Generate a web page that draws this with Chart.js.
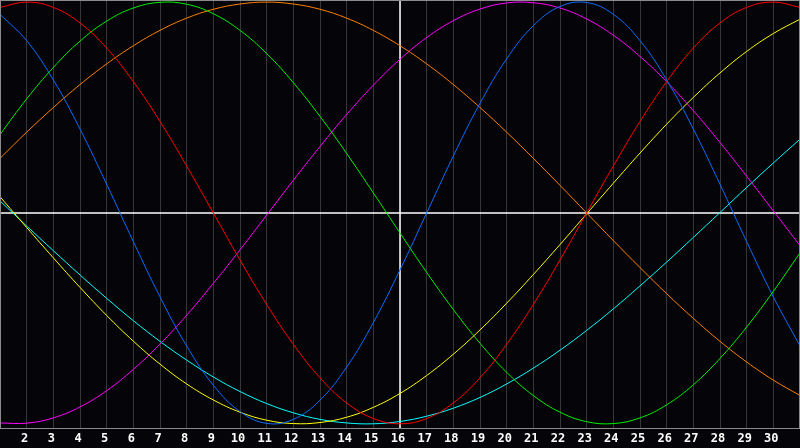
<!DOCTYPE html>
<html>
<head>
<meta charset="utf-8">
<script src="https://cdn.jsdelivr.net/npm/chart.js@4"></script>
<style>
  html, body { margin: 0; padding: 0; background: #050408; }
  #chart { display: block; }
</style>
</head>
<body>
<canvas id="chart" width="800" height="448"></canvas>
<script>
// days shown on the chart, and the labelled ones
var days = [];
for (var d = 1; d <= 31; d++) days.push(d);
var dayLabels = [2,3,4,5,6,7,8,9,10,11,12,13,14,15,16,17,18,19,20,21,22,23,24,25,26,27,28,29,30];
var today = 16;

// values, one per day (-1 .. 1)
var red = [0.975,1.000,0.975,0.901,0.782,0.623,0.434,0.223,0.000,-0.223,-0.434,-0.623,-0.782,-0.901,-0.975,-1.000,-0.975,-0.901,-0.782,-0.623,-0.434,-0.223,0.000,0.223,0.434,0.623,0.782,0.901,0.975,1.000,0.975];
var green = [0.372,0.541,0.690,0.815,0.910,0.972,0.999,0.990,0.945,0.866,0.756,0.618,0.458,0.282,0.095,-0.095,-0.282,-0.458,-0.618,-0.756,-0.866,-0.945,-0.990,-0.999,-0.972,-0.910,-0.815,-0.690,-0.541,-0.372,-0.189];
var blue = [0.942,0.817,0.631,0.398,0.136,-0.136,-0.398,-0.631,-0.817,-0.942,-0.998,-0.979,-0.888,-0.731,-0.520,-0.270,0.000,0.270,0.520,0.731,0.888,0.979,0.998,0.942,0.817,0.631,0.398,0.136,-0.136,-0.398,-0.631];
var orange = [0.259,0.383,0.500,0.609,0.707,0.793,0.866,0.924,0.966,0.991,1.000,0.991,0.966,0.924,0.866,0.793,0.707,0.609,0.500,0.383,0.259,0.131,0.000,-0.131,-0.259,-0.383,-0.500,-0.609,-0.707,-0.793,-0.866];
var magenta = [-0.996,-0.997,-0.972,-0.920,-0.843,-0.742,-0.622,-0.485,-0.334,-0.175,-0.010,0.155,0.315,0.467,0.606,0.729,0.832,0.912,0.967,0.996,0.997,0.972,0.920,0.843,0.742,0.622,0.485,0.334,0.174,0.010,-0.155];
var yellow = [0.077,-0.069,-0.213,-0.353,-0.486,-0.608,-0.717,-0.811,-0.887,-0.945,-0.983,-0.999,-0.994,-0.969,-0.922,-0.856,-0.771,-0.670,-0.555,-0.428,-0.292,-0.150,-0.004,0.141,0.284,0.421,0.548,0.664,0.766,0.851,0.919];
var cyan = [0.057,-0.062,-0.179,-0.294,-0.405,-0.511,-0.609,-0.698,-0.778,-0.847,-0.904,-0.948,-0.979,-0.996,-1.000,-0.989,-0.964,-0.926,-0.875,-0.811,-0.736,-0.651,-0.557,-0.455,-0.346,-0.233,-0.116,0.002,0.121,0.237,0.350];

var yMin = -1.02, yMax = 1.01;

function toPoints(values) {
    return values.map(function(v, i) { return { x: days[i], y: v }; });
}

function curve(values, color) {
    return {
        data: toPoints(values),
        borderColor: color,
        borderWidth: 1,
        pointRadius: 0,
        tension: 0.4,
        fill: false,
        order: 1
    };
}

// grey frame round the plot
var framePlugin = {
    id: 'frame',
    afterDraw: function(chart) {
        var a = chart.chartArea;
        var ctx = chart.ctx;
        ctx.save();
        ctx.strokeStyle = '#8c8c8c';
        ctx.lineWidth = 1;
        ctx.strokeRect(a.left + 0.5, a.top + 0.5, a.right - a.left - 1, a.bottom - a.top);
        ctx.restore();
    }
};

var bgPlugin = {
    id: 'bg',
    beforeDraw: function(chart) {
        var ctx = chart.ctx;
        ctx.save();
        ctx.fillStyle = '#050408';
        ctx.fillRect(0, 0, chart.width, chart.height);
        ctx.restore();
    }
};

new Chart(document.getElementById('chart').getContext('2d'), {
    type: 'line',
    data: {
        datasets: [
            curve(red, '#ff0000'),
            curve(green, '#00f000'),
            curve(blue, '#0a6cff'),
            curve(orange, '#ff8000'),
            curve(magenta, '#ff00ff'),
            curve(yellow, '#ffff00'),
            curve(cyan, '#00ffff'),
            {
                data: [{ x: days[0], y: 0 }, { x: days[days.length - 1], y: 0 }],
                borderColor: '#ffffff', borderWidth: 1.5, pointRadius: 0, order: 2
            },
            {
                data: [{ x: today, y: yMin }, { x: today, y: yMax }],
                borderColor: '#ffffff', borderWidth: 1.5, pointRadius: 0, order: 2
            }
        ]
    },
    options: {
        responsive: false,
        animation: false,
        devicePixelRatio: 1,
        layout: { padding: 0 },
        plugins: { legend: { display: false }, tooltip: { enabled: false } },
        scales: {
            x: {
                type: 'linear',
                min: days[0],
                max: days[days.length - 1],
                afterBuildTicks: function(axis) {
                    axis.ticks = dayLabels.map(function(v) { return { value: v }; });
                },
                afterFit: function(axis) { axis.height = 20; },
                grid: { color: '#363636', lineWidth: 1, drawTicks: false },
                border: { display: false },
                ticks: {
                    autoSkip: false,
                    maxRotation: 0,
                    padding: 4,
                    labelOffset: -2,
                    color: '#ffffff',
                    font: { family: 'DejaVu Sans Mono', size: 12, weight: 'bold' }
                }
            },
            y: {
                display: false,
                min: yMin,
                max: yMax
            }
        }
    },
    plugins: [bgPlugin, framePlugin]
});
</script>
</body>
</html>
